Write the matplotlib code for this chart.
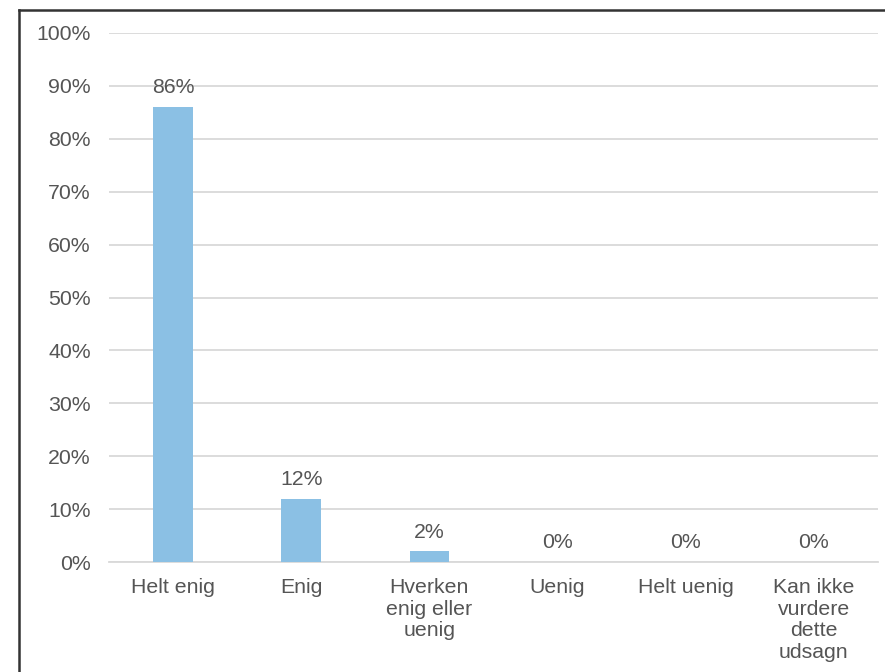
import matplotlib
matplotlib.use("Agg")
import matplotlib.pyplot as plt
from matplotlib.lines import Line2D

categories = ["Helt enig", "Enig", "Hverken\nenig eller\nuenig", "Uenig",
              "Helt uenig", "Kan ikke\nvurdere\ndette\nudsagn"]
values = [86, 12, 2, 0, 0, 0]
yticks = [0, 10, 20, 30, 40, 50, 60, 70, 80, 90, 100]

plt.rcParams["font.family"] = ["Liberation Sans", "DejaVu Sans"]
text_color = "#555555"
bar_color = "#8BC0E4"
fs = 15.3

fig = plt.figure(figsize=(8.85, 6.72), dpi=100)
ax = fig.add_axes([109 / 885, 1 - 562 / 672, 769 / 885, 529 / 672])

x = list(range(len(categories)))
ax.bar(x, values, width=0.31, color=bar_color, zorder=3)
for xi, v in zip(x, values):
    ax.annotate(f"{v}%", (xi, v), xytext=(0, 7), textcoords="offset points",
                ha="center", va="bottom", fontsize=fs, color=text_color)

ax.set_xlim(-0.5, len(categories) - 0.5)
ax.set_ylim(0, 100)
ax.set_yticks(yticks)
ax.set_yticklabels([f"{t}%" for t in yticks])
ax.set_xticks(x)
ax.set_xticklabels(categories, linespacing=1.17)
ax.tick_params(axis="both", length=0, labelsize=fs, labelcolor=text_color)
ax.tick_params(axis="y", pad=13)
ax.tick_params(axis="x", pad=11.5)
ax.grid(axis="y", color="#d9d9d9", linewidth=1.3, zorder=0)
for s in ["top", "right", "left"]:
    ax.spines[s].set_visible(False)
ax.spines["bottom"].set_color("#d9d9d9")
ax.spines["bottom"].set_linewidth(1.3)

# outer frame (left and top edges)
fig.add_artist(Line2D([19 / 885, 19 / 885], [0, 1 - 10 / 672],
                      transform=fig.transFigure, color="#333333", linewidth=1.8))
fig.add_artist(Line2D([19 / 885, 1], [1 - 10 / 672, 1 - 10 / 672],
                      transform=fig.transFigure, color="#333333", linewidth=1.8))

fig.savefig("out.png", dpi=100, facecolor="white")
